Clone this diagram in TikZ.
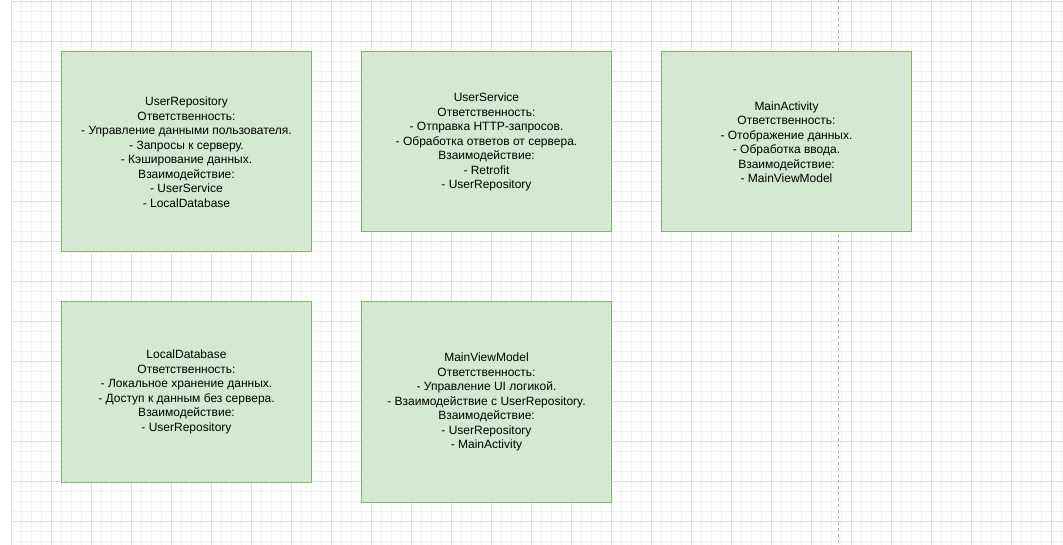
\documentclass[tikz,border=0pt]{standalone}
\usepackage{fontspec}
\setmainfont{Liberation Sans}
\definecolor{boxFill}{HTML}{D5E8D4}
\definecolor{boxBorder}{HTML}{82B366}
\definecolor{gridMajor}{HTML}{DFDFDF}
\definecolor{gridMinor}{HTML}{F2F2F2}

\begin{document}
\begin{tikzpicture}
[x=1pt,y=-1pt,
  minorLine/.style={draw=gridMinor,line width=0.8pt},%
  majorLine/.style={draw=gridMajor,line width=0.8pt},%
  pageBreak/.style={draw=black!30,line width=0.8pt,dash pattern=on 3pt off 3pt},%
  nodeDecorate/.style={shape=rectangle,draw=boxBorder,fill=boxFill,line width=1pt,
    minimum width=250pt,inner sep=0pt,align=center,
    font=\fontsize{12}{14.5}\selectfont}]
\useasboundingbox[fill=white] (0,0) rectangle (1063,545);
%% grid
\foreach \x in {11.5,21.5,...,1062}
  \draw[minorLine] (\x,1.5) -- (\x,545);
\foreach \y in {11.5,21.5,...,545}
  \draw[minorLine] (11.5,\y) -- (1063,\y);
\foreach \x in {11.5,51.5,...,1062}
  \draw[majorLine] (\x,1.5) -- (\x,545);
\foreach \y in {1.5,41.5,...,545}
  \draw[majorLine] (11.5,\y) -- (1063,\y);
\draw[pageBreak] (838.5,0) -- (838.5,545);
%% classes
\foreach \nodename/\x/\y/\h/\txt in {
  userRepository/186.5/152/200/{UserRepository\\Ответственность:\\- Управление данными пользователя.\\- Запросы к серверу.\\- Кэширование данных.\\Взаимодействие:\\- UserService\\- LocalDatabase},
  userService/486.5/142/180/{UserService\\Ответственность:\\- Отправка HTTP-запросов.\\- Обработка ответов от сервера.\\Взаимодействие:\\- Retrofit\\- UserRepository},
  mainActivity/786.5/142/180/{MainActivity\\Ответственность:\\- Отображение данных.\\- Обработка ввода.\\Взаимодействие:\\- MainViewModel},
  localDatabase/186.5/392/180/{LocalDatabase\\Ответственность:\\- Локальное хранение данных.\\- Доступ к данным без сервера.\\Взаимодействие:\\- UserRepository},
  mainViewModel/486.5/402/200/{MainViewModel\\Ответственность:\\- Управление UI логикой.\\- Взаимодействие с UserRepository.\\Взаимодействие:\\- UserRepository\\- MainActivity}}
{
  \node (\nodename) at (\x,\y) [nodeDecorate,minimum height=\h pt] {\txt};
}
\end{tikzpicture}
\end{document}
